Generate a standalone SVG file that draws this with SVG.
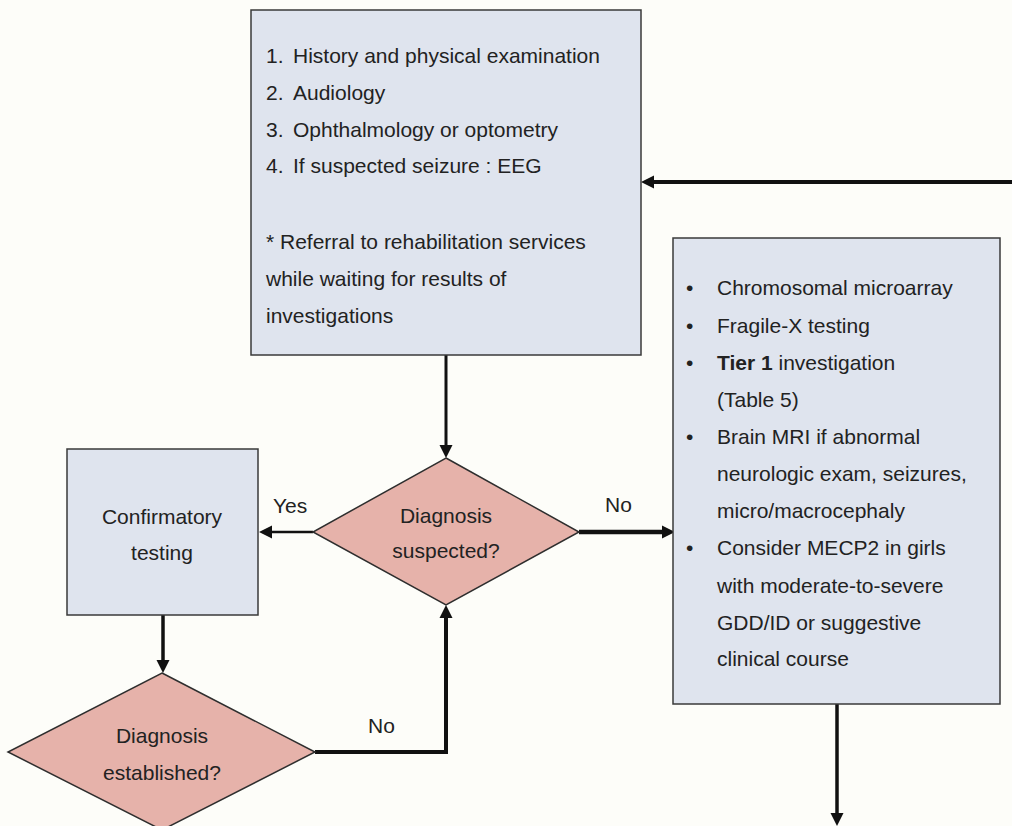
<svg xmlns="http://www.w3.org/2000/svg" width="1012" height="826" viewBox="0 0 1012 826">
<style>
.box{fill:#dfe4ee;stroke:#3a3a3a;stroke-width:1.5}
.dia{fill:#e6b2aa;stroke:#2e2e2e;stroke-width:1.5}
text{font-family:"Liberation Sans",Arial,sans-serif;font-size:21px;fill:#222}
.c{text-anchor:middle}
.con{fill:none;stroke:#111;stroke-linejoin:miter}
</style>
<defs>
<marker id="ah" viewBox="0 -7 13 14" refX="0" refY="0" markerWidth="13" markerHeight="14" markerUnits="userSpaceOnUse" orient="auto">
<path d="M0,-6.5 L13,0 L0,6.5 z" fill="#111"/>
</marker>
</defs>
<rect width="1012" height="826" fill="#fdfdf9"/>
<g id="connectors">
<path class="con" stroke-width="4" d="M1012,182 H654" marker-end="url(#ah)"/>
<path class="con" stroke-width="3" d="M446,355 V445" marker-end="url(#ah)"/>
<path class="con" stroke-width="2.5" d="M313,532 H272" marker-end="url(#ah)"/>
<path class="con" stroke-width="4.5" d="M579,532 H662" marker-end="url(#ah)"/>
<path class="con" stroke-width="3.5" d="M163,615 V660" marker-end="url(#ah)"/>
<path class="con" stroke-width="4" d="M315,752 H446 V618" marker-end="url(#ah)"/>
<path class="con" stroke-width="3.5" d="M837,704 V813" marker-end="url(#ah)"/>
<text x="273" y="513">Yes</text>
<text x="605" y="512">No</text>
<text x="368" y="733">No</text>
</g>
<g id="assessment">
<rect class="box" x="251" y="10" width="390" height="345"/>
<text x="266" y="63">1.<tspan x="293">History and physical examination</tspan></text>
<text x="266" y="100">2.<tspan x="293">Audiology</tspan></text>
<text x="266" y="137">3.<tspan x="293">Ophthalmology or optometry</tspan></text>
<text x="266" y="173">4.<tspan x="293">If suspected seizure : EEG</tspan></text>
<text x="266" y="249">* Referral to rehabilitation services</text>
<text x="266" y="286">while waiting for results of</text>
<text x="266" y="323">investigations</text>
</g>
<g id="investigations">
<rect class="box" x="673" y="238" width="327" height="466"/>
<text x="686" y="295">•</text><text x="717" y="295">Chromosomal microarray</text>
<text x="686" y="333">•</text><text x="717" y="333">Fragile-X testing</text>
<text x="686" y="370">•</text><text x="717" y="370"><tspan font-weight="bold">Tier 1</tspan> investigation</text>
<text x="717" y="407">(Table 5)</text>
<text x="686" y="444">•</text><text x="717" y="444">Brain MRI if abnormal</text>
<text x="717" y="481">neurologic exam, seizures,</text>
<text x="717" y="518">micro/macrocephaly</text>
<text x="686" y="555">•</text><text x="717" y="555">Consider MECP2 in girls</text>
<text x="717" y="593">with moderate-to-severe</text>
<text x="717" y="630">GDD/ID or suggestive</text>
<text x="717" y="666">clinical course</text>
</g>
<g id="confirmatory">
<rect class="box" x="67" y="449" width="191" height="166"/>
<text class="c" x="162" y="524">Confirmatory</text>
<text class="c" x="162" y="560">testing</text>
</g>
<g id="suspected">
<polygon class="dia" points="446,458 579,532 446,605 313,532"/>
<text class="c" x="446" y="523">Diagnosis</text>
<text class="c" x="446" y="558">suspected?</text>
</g>
<g id="established">
<polygon class="dia" points="162,673 315,752 162,830 8,752"/>
<text class="c" x="162" y="743">Diagnosis</text>
<text class="c" x="162" y="780">established?</text>
</g>
</svg>
